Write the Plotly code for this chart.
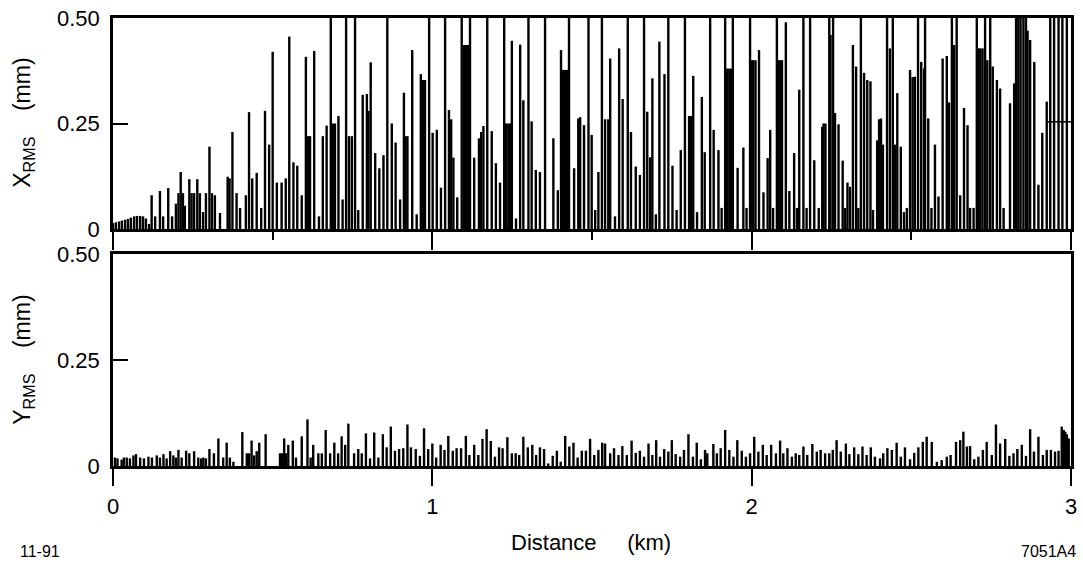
import numpy as np
import plotly.graph_objects as go

# Horizontal beam-size spikes along the linac (distance in km, X_RMS in mm).
# Values above 0.50 run off the top of the frame.
x_rms_km = [
    0.000, 0.009, 0.019, 0.028, 0.038, 0.047, 0.056, 0.066, 0.075, 0.085, 0.094, 0.103, 0.113,
    0.121, 0.132, 0.147, 0.157, 0.173, 0.185, 0.197, 0.205, 0.212, 0.219, 0.225, 0.239, 0.246,
    0.254, 0.264, 0.272, 0.282, 0.291, 0.302, 0.310, 0.319, 0.335, 0.359, 0.365, 0.374, 0.387,
    0.398, 0.416, 0.426, 0.436, 0.450, 0.464, 0.476, 0.489, 0.500, 0.513, 0.528, 0.541, 0.552,
    0.565, 0.577, 0.591, 0.604, 0.611, 0.617, 0.630, 0.645, 0.657, 0.669, 0.682, 0.689, 0.695,
    0.706, 0.719, 0.730, 0.739, 0.748, 0.758, 0.768, 0.782, 0.795, 0.800, 0.807, 0.821, 0.834,
    0.847, 0.859, 0.873, 0.885, 0.899, 0.911, 0.916, 0.922, 0.937, 0.951, 0.964, 0.971, 0.977,
    0.990, 1.001, 1.014, 1.027, 1.040, 1.052, 1.059, 1.066, 1.078, 1.092, 1.099, 1.106, 1.112,
    1.118, 1.131, 1.146, 1.153, 1.160, 1.172, 1.186, 1.199, 1.212, 1.225, 1.231, 1.238, 1.243,
    1.249, 1.262, 1.275, 1.285, 1.301, 1.311, 1.324, 1.337, 1.353, 1.379, 1.393, 1.403, 1.409,
    1.416, 1.422, 1.428, 1.444, 1.457, 1.463, 1.475, 1.489, 1.499, 1.510, 1.520, 1.531, 1.541,
    1.551, 1.557, 1.572, 1.585, 1.596, 1.612, 1.622, 1.637, 1.650, 1.663, 1.673, 1.682, 1.689,
    1.700, 1.711, 1.727, 1.739, 1.752, 1.765, 1.778, 1.791, 1.804, 1.810, 1.817, 1.829, 1.844,
    1.853, 1.870, 1.881, 1.896, 1.906, 1.917, 1.923, 1.930, 1.935, 1.941, 1.956, 1.974, 1.984,
    1.995, 2.000, 2.005, 2.012, 2.023, 2.037, 2.050, 2.058, 2.067, 2.079, 2.084, 2.089, 2.095,
    2.107, 2.118, 2.133, 2.142, 2.149, 2.162, 2.172, 2.183, 2.196, 2.210, 2.221, 2.225, 2.231,
    2.243, 2.247, 2.255, 2.261, 2.272, 2.285, 2.293, 2.300, 2.308, 2.317, 2.327, 2.334, 2.342,
    2.352, 2.362, 2.372, 2.380, 2.393, 2.399, 2.405, 2.411, 2.424, 2.433, 2.442, 2.449, 2.456,
    2.467, 2.477, 2.486, 2.496, 2.504, 2.511, 2.521, 2.531, 2.540, 2.543, 2.553, 2.563, 2.574,
    2.585, 2.598, 2.611, 2.618, 2.627, 2.634, 2.642, 2.653, 2.665, 2.676, 2.684, 2.695, 2.705,
    2.711, 2.716, 2.723, 2.731, 2.738, 2.747, 2.755, 2.768, 2.778, 2.789, 2.809, 2.822, 2.828,
    2.835, 2.842, 2.851, 2.859, 2.864, 2.872, 2.885, 2.898, 2.910, 2.924, 2.935, 2.947, 2.961,
    2.973, 2.987,
]
x_rms_mm = [
    0.014, 0.016, 0.018, 0.020, 0.022, 0.024, 0.027, 0.030, 0.031, 0.031, 0.030, 0.025, 0.012,
    0.080, 0.030, 0.090, 0.030, 0.097, 0.030, 0.060, 0.085, 0.135, 0.085, 0.055, 0.118, 0.085,
    0.085, 0.118, 0.085, 0.040, 0.085, 0.195, 0.085, 0.080, 0.038, 0.124, 0.120, 0.230, 0.085,
    0.050, 0.080, 0.277, 0.120, 0.133, 0.050, 0.280, 0.200, 0.420, 0.110, 0.110, 0.120, 0.456,
    0.158, 0.150, 0.080, 0.408, 0.220, 0.220, 0.422, 0.030, 0.220, 0.245, 0.600, 0.250, 0.250,
    0.268, 0.070, 0.600, 0.220, 0.220, 0.600, 0.045, 0.318, 0.320, 0.280, 0.395, 0.180, 0.144,
    0.175, 0.600, 0.250, 0.205, 0.070, 0.323, 0.220, 0.220, 0.424, 0.035, 0.367, 0.353, 0.353,
    0.600, 0.228, 0.235, 0.098, 0.600, 0.282, 0.260, 0.169, 0.075, 0.600, 0.436, 0.436, 0.436,
    0.600, 0.169, 0.215, 0.230, 0.244, 0.600, 0.232, 0.156, 0.110, 0.600, 0.250, 0.250, 0.250,
    0.446, 0.025, 0.437, 0.305, 0.600, 0.255, 0.140, 0.135, 0.600, 0.215, 0.092, 0.424, 0.377,
    0.377, 0.377, 0.600, 0.144, 0.262, 0.265, 0.246, 0.600, 0.223, 0.045, 0.135, 0.600, 0.260,
    0.260, 0.404, 0.030, 0.428, 0.308, 0.600, 0.230, 0.148, 0.128, 0.600, 0.278, 0.170, 0.357,
    0.035, 0.444, 0.367, 0.600, 0.150, 0.045, 0.187, 0.600, 0.268, 0.268, 0.363, 0.040, 0.313,
    0.182, 0.600, 0.235, 0.187, 0.050, 0.600, 0.380, 0.380, 0.380, 0.600, 0.145, 0.193, 0.050,
    0.600, 0.400, 0.400, 0.400, 0.424, 0.087, 0.168, 0.235, 0.050, 0.600, 0.400, 0.400, 0.400,
    0.490, 0.090, 0.180, 0.050, 0.330, 0.600, 0.050, 0.600, 0.163, 0.050, 0.242, 0.250, 0.250,
    0.600, 0.460, 0.600, 0.275, 0.248, 0.162, 0.050, 0.110, 0.100, 0.436, 0.385, 0.050, 0.600,
    0.370, 0.353, 0.350, 0.045, 0.210, 0.260, 0.262, 0.200, 0.600, 0.428, 0.600, 0.200, 0.322,
    0.195, 0.040, 0.050, 0.377, 0.360, 0.361, 0.600, 0.396, 0.380, 0.600, 0.262, 0.050, 0.200,
    0.077, 0.404, 0.410, 0.300, 0.600, 0.436, 0.600, 0.080, 0.287, 0.246, 0.050, 0.050, 0.600,
    0.428, 0.428, 0.428, 0.600, 0.400, 0.600, 0.385, 0.353, 0.333, 0.050, 0.298, 0.345, 0.600,
    0.600, 0.600, 0.600, 0.600, 0.470, 0.448, 0.396, 0.105, 0.228, 0.302, 0.600, 0.600, 0.600,
    0.600, 0.600,
]
# Flat step drawn across the last cells of the X plot
plateau_km = [2.924, 3.000]
plateau_mm = [0.254, 0.254]

# Vertical beam-size spikes (distance in km, Y_RMS in mm)
y_rms_km = [
    0.006, 0.014, 0.027, 0.034, 0.043, 0.053, 0.064, 0.072, 0.085, 0.097, 0.111, 0.122, 0.137,
    0.147, 0.158, 0.168, 0.179, 0.189, 0.197, 0.205, 0.215, 0.229, 0.239, 0.254, 0.267, 0.276,
    0.283, 0.291, 0.302, 0.316, 0.330, 0.345, 0.356, 0.366, 0.377, 0.405, 0.419, 0.426, 0.434,
    0.442, 0.450, 0.458, 0.478, 0.523, 0.529, 0.536, 0.542, 0.549, 0.563, 0.573, 0.591, 0.609,
    0.619, 0.627, 0.643, 0.654, 0.666, 0.680, 0.693, 0.705, 0.716, 0.727, 0.737, 0.755, 0.768,
    0.779, 0.792, 0.805, 0.818, 0.831, 0.845, 0.857, 0.870, 0.883, 0.896, 0.909, 0.922, 0.933,
    0.948, 0.961, 0.974, 0.987, 1.000, 1.012, 1.026, 1.038, 1.050, 1.064, 1.076, 1.090, 1.105,
    1.116, 1.131, 1.144, 1.157, 1.170, 1.183, 1.196, 1.209, 1.220, 1.235, 1.249, 1.261, 1.272,
    1.285, 1.299, 1.313, 1.325, 1.337, 1.350, 1.363, 1.377, 1.390, 1.402, 1.416, 1.429, 1.442,
    1.455, 1.468, 1.481, 1.494, 1.507, 1.520, 1.532, 1.541, 1.557, 1.569, 1.583, 1.595, 1.609,
    1.624, 1.637, 1.650, 1.663, 1.677, 1.689, 1.701, 1.713, 1.726, 1.739, 1.750, 1.762, 1.776,
    1.788, 1.802, 1.816, 1.828, 1.841, 1.854, 1.861, 1.880, 1.891, 1.903, 1.917, 1.930, 1.943,
    1.955, 1.969, 1.982, 1.995, 2.008, 2.021, 2.035, 2.047, 2.061, 2.076, 2.089, 2.099, 2.112,
    2.126, 2.138, 2.149, 2.162, 2.174, 2.190, 2.204, 2.216, 2.230, 2.243, 2.254, 2.266, 2.279,
    2.295, 2.306, 2.321, 2.334, 2.347, 2.360, 2.373, 2.386, 2.402, 2.412, 2.425, 2.439, 2.454,
    2.467, 2.480, 2.496, 2.509, 2.522, 2.536, 2.548, 2.564, 2.580, 2.595, 2.611, 2.623, 2.640,
    2.653, 2.663, 2.674, 2.684, 2.697, 2.710, 2.724, 2.736, 2.752, 2.765, 2.778, 2.794, 2.807,
    2.820, 2.832, 2.846, 2.859, 2.872, 2.884, 2.898, 2.912, 2.924, 2.937, 2.950, 2.961, 2.971,
    2.977, 2.982, 2.987, 2.993,
]
y_rms_mm = [
    0.020, 0.018, 0.015, 0.020, 0.020, 0.018, 0.025, 0.028, 0.020, 0.018, 0.022, 0.020, 0.025,
    0.020, 0.028, 0.018, 0.035, 0.025, 0.020, 0.038, 0.020, 0.036, 0.030, 0.035, 0.020, 0.018,
    0.020, 0.018, 0.040, 0.030, 0.065, 0.020, 0.055, 0.020, 0.010, 0.080, 0.030, 0.030, 0.060,
    0.025, 0.035, 0.055, 0.075, 0.030, 0.030, 0.065, 0.030, 0.050, 0.060, 0.020, 0.070, 0.110,
    0.020, 0.050, 0.030, 0.030, 0.085, 0.030, 0.055, 0.030, 0.070, 0.050, 0.100, 0.030, 0.040,
    0.030, 0.077, 0.018, 0.079, 0.020, 0.075, 0.044, 0.093, 0.036, 0.040, 0.042, 0.098, 0.044,
    0.040, 0.024, 0.089, 0.040, 0.053, 0.020, 0.050, 0.038, 0.071, 0.036, 0.042, 0.042, 0.071,
    0.026, 0.050, 0.026, 0.064, 0.087, 0.059, 0.022, 0.044, 0.042, 0.068, 0.030, 0.030, 0.026,
    0.069, 0.044, 0.050, 0.026, 0.044, 0.040, 0.006, 0.024, 0.036, 0.010, 0.071, 0.046, 0.055,
    0.020, 0.036, 0.036, 0.064, 0.026, 0.038, 0.055, 0.053, 0.030, 0.042, 0.026, 0.047, 0.026,
    0.060, 0.031, 0.036, 0.022, 0.053, 0.026, 0.061, 0.022, 0.040, 0.034, 0.061, 0.028, 0.022,
    0.038, 0.075, 0.022, 0.055, 0.016, 0.038, 0.030, 0.052, 0.030, 0.042, 0.085, 0.038, 0.022,
    0.061, 0.036, 0.022, 0.030, 0.069, 0.034, 0.050, 0.026, 0.050, 0.030, 0.060, 0.030, 0.042,
    0.022, 0.030, 0.026, 0.046, 0.026, 0.052, 0.034, 0.038, 0.030, 0.030, 0.038, 0.061, 0.034,
    0.053, 0.028, 0.044, 0.028, 0.046, 0.026, 0.044, 0.022, 0.018, 0.030, 0.042, 0.038, 0.055,
    0.022, 0.044, 0.016, 0.031, 0.044, 0.057, 0.069, 0.057, 0.010, 0.014, 0.022, 0.026, 0.057,
    0.061, 0.081, 0.046, 0.047, 0.016, 0.022, 0.038, 0.057, 0.026, 0.098, 0.053, 0.064, 0.024,
    0.030, 0.040, 0.050, 0.024, 0.087, 0.034, 0.069, 0.026, 0.038, 0.038, 0.034, 0.036, 0.093,
    0.085, 0.081, 0.075, 0.065,
]

y_ticks = [0, 0.25, 0.5]
y_tick_text = ["0", "0.25", "0.50"]
x_ticks = [0, 1, 2, 3]

FONT = "Liberation Sans, Arial, Helvetica, sans-serif"
INK = "black"


def spikes(km, mm):
    """Vertical stems from the baseline up to each value, broken by None."""
    km = np.asarray(km, dtype=float)
    mm = np.asarray(mm, dtype=float)
    n = len(km)
    xs = np.empty(3 * n, dtype=object)
    ys = np.empty(3 * n, dtype=object)
    xs[0::3] = km
    xs[1::3] = km
    xs[2::3] = None
    ys[0::3] = 0.0
    ys[1::3] = mm
    ys[2::3] = None
    return list(xs), list(ys)


fig = go.Figure()

sx, sy = spikes(x_rms_km, x_rms_mm)
fig.add_trace(go.Scatter(x=sx, y=sy, mode="lines", xaxis="x", yaxis="y",
                         line=dict(color=INK, width=2.4), hoverinfo="skip"))
fig.add_trace(go.Scatter(x=plateau_km, y=plateau_mm, mode="lines", xaxis="x", yaxis="y",
                         line=dict(color=INK, width=1.5), hoverinfo="skip"))

sx2, sy2 = spikes(y_rms_km, y_rms_mm)
fig.add_trace(go.Scatter(x=sx2, y=sy2, mode="lines", xaxis="x2", yaxis="y2",
                         line=dict(color=INK, width=2.4), hoverinfo="skip"))

axis_common = dict(showline=True, linecolor=INK, linewidth=2.5, mirror=True,
                   showgrid=False, zeroline=False, tickcolor=INK, tickwidth=2,
                   automargin=False)

fig.update_layout(
    width=1083, height=563,
    margin=dict(l=113, r=12, t=18, b=97),
    paper_bgcolor="white", plot_bgcolor="white",
    showlegend=False,
    font=dict(family=FONT, size=22, color=INK),
    xaxis=dict(domain=[0, 1], anchor="y", range=[0, 3], tickmode="array",
               tickvals=x_ticks, ticks="outside", ticklen=18, showticklabels=False,
               minor=dict(dtick=0.5, tick0=0, ticks="outside", ticklen=8,
                          tickwidth=2, tickcolor=INK, showgrid=False),
               **axis_common),
    yaxis=dict(domain=[0.529, 1], anchor="x", range=[0, 0.5], tickmode="array",
               tickvals=y_ticks, ticktext=y_tick_text, ticks="inside", ticklen=15,
               ticklabelstandoff=6, **axis_common),
    xaxis2=dict(domain=[0, 1], anchor="y2", range=[0, 3], tickmode="array",
                tickvals=x_ticks, ticktext=[str(v) for v in x_ticks],
                ticks="outside", ticklen=17, ticklabelstandoff=2, **axis_common),
    yaxis2=dict(domain=[0, 0.473], anchor="x2", range=[0, 0.5], tickmode="array",
                tickvals=y_ticks, ticktext=y_tick_text, ticks="inside", ticklen=15,
                ticklabelstandoff=6, **axis_common),
)

nb = "\u00a0"
annotations = [
    dict(text=f"X<sub>RMS</sub>{nb*4}(mm)", x=-0.093, y=0.766, textangle=-90,
         font=dict(size=23)),
    dict(text=f"Y<sub>RMS</sub>{nb*4}(mm)", x=-0.093, y=0.237, textangle=-90,
         font=dict(size=23)),
    dict(text=f"Distance{nb*5}(km)", x=0.499, y=-0.170, font=dict(size=22)),
    dict(text="11-91", x=-0.076, y=-0.190, font=dict(size=16)),
    dict(text="7051A4", x=0.976, y=-0.190, font=dict(size=16)),
]
for a in annotations:
    fig.add_annotation(xref="paper", yref="paper", showarrow=False,
                       xanchor="center", yanchor="middle", **a)

fig.write_html("out.html")
